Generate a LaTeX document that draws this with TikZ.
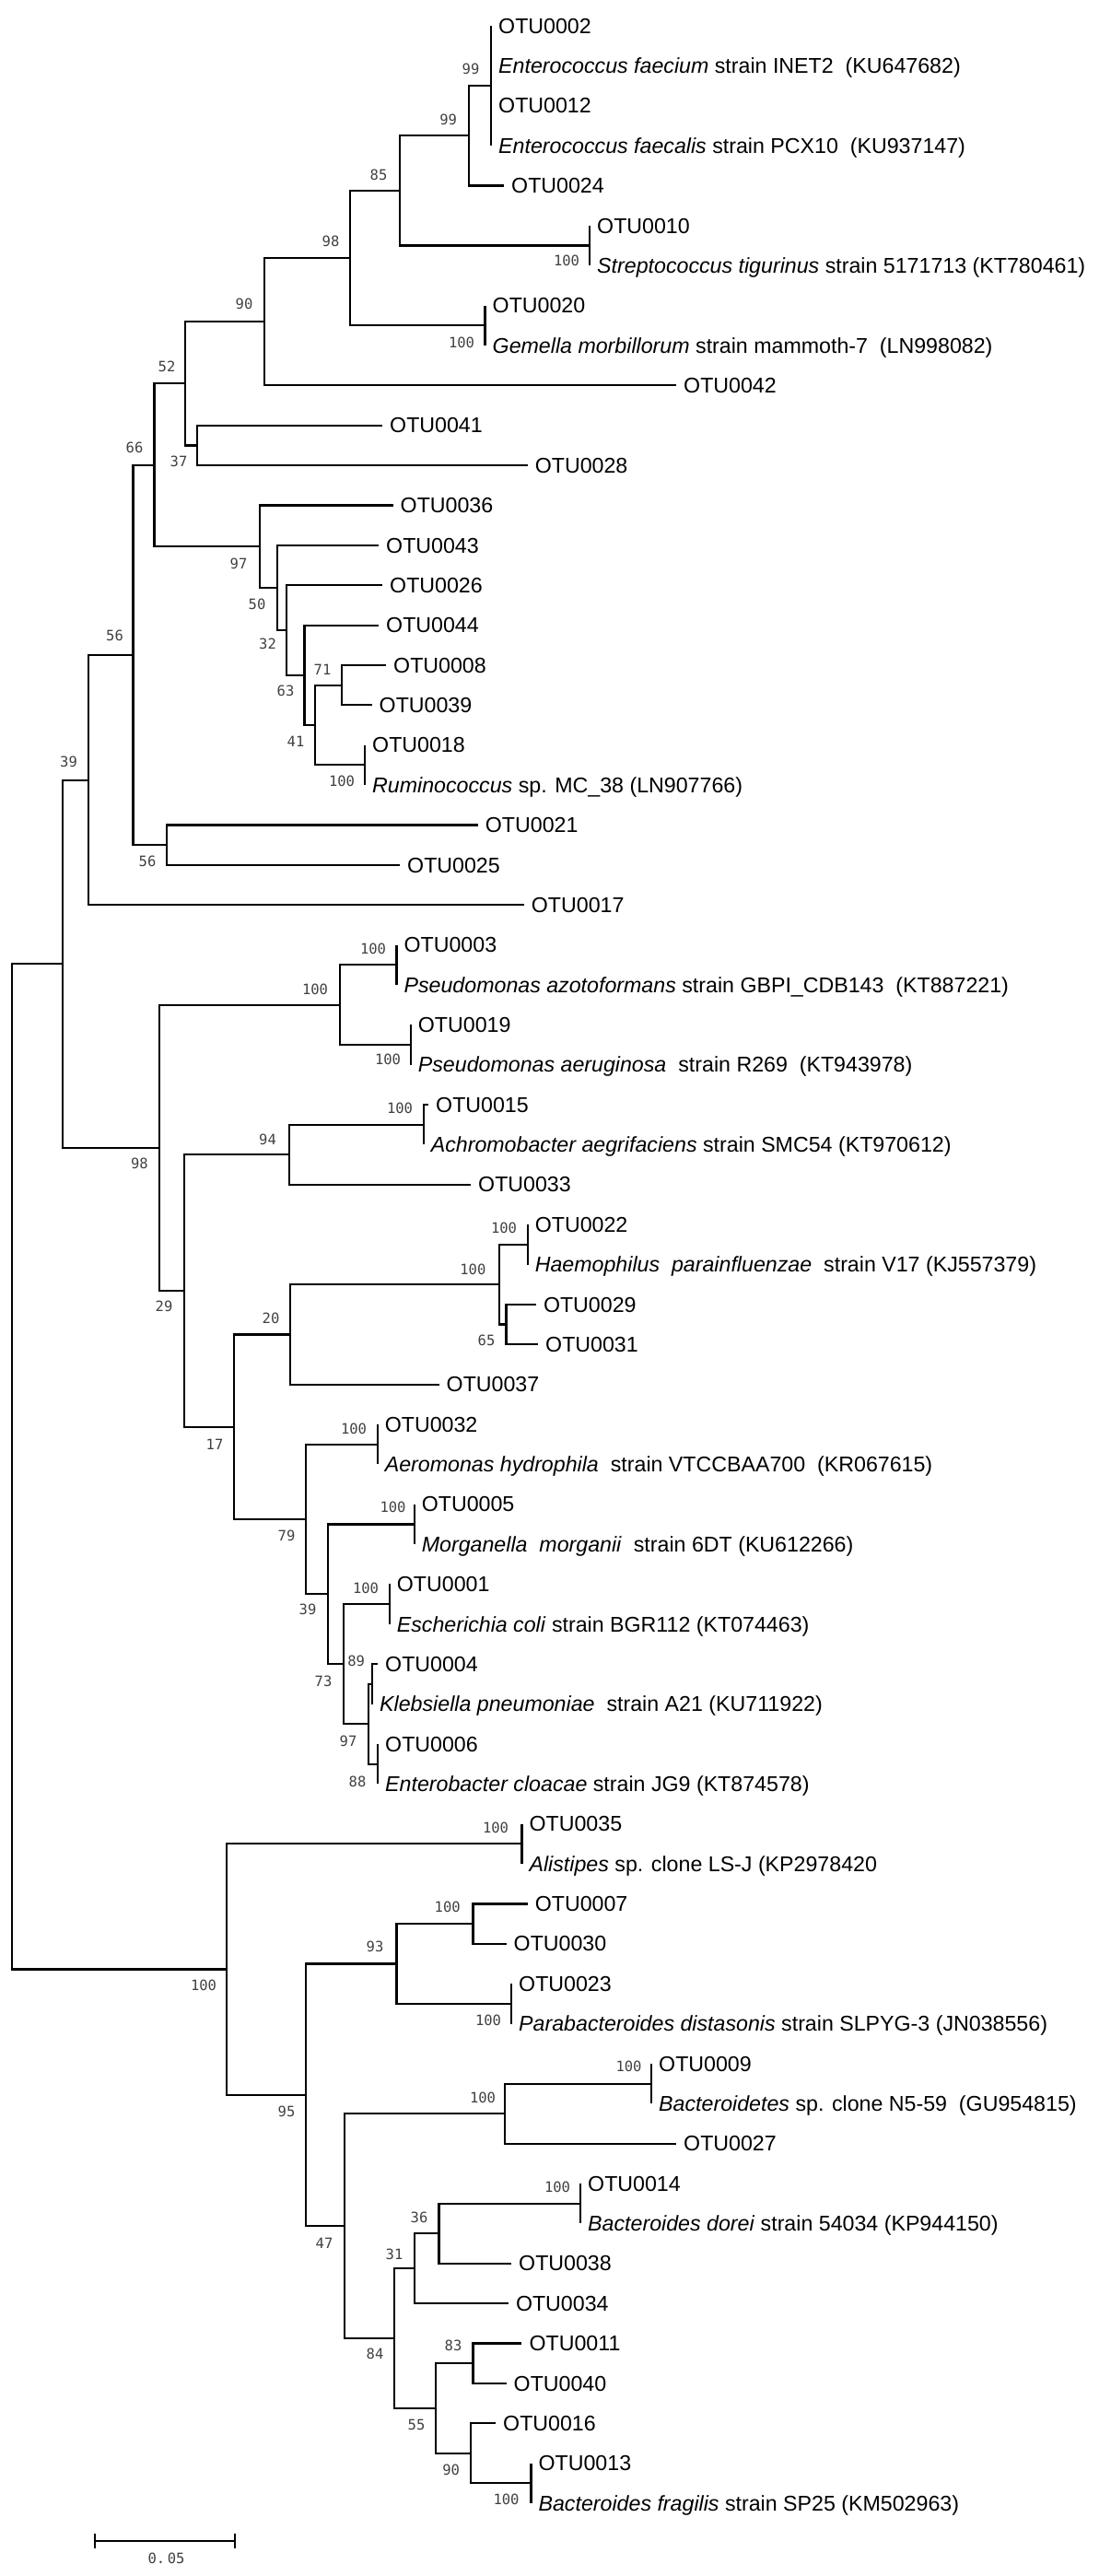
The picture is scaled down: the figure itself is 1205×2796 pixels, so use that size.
\documentclass[tikz,border=0pt]{standalone}
\usepackage{fontspec}
\setmainfont{Liberation Sans}
\newfontfamily\bootfont{DejaVu Sans Mono}
\usetikzlibrary{arrows.meta}

\begin{document}
\begin{tikzpicture}[
                x=1pt, y=-1pt,
                branch/.style={line width=2.2pt},
                otu/.style={
                        anchor=west,
                        inner xsep=8pt,
                        inner ysep=0pt,
                        font=\fontsize{23.2}{26}\selectfont,
                        text height=16.5pt,
                        text depth=0pt
                    },
                boot/.style={inner sep=0pt, text=black!75, font=\bootfont\fontsize{15.5}{18}\selectfont}
            ]
            \useasboundingbox (0,0) rectangle (1205,2796);

            % Firmicutes
            \node[otu] (o02)  at (533,28)    {OTU0002};
            \node[otu] (efm)  at (533,71.4)  {\textit{Enterococcus faecium} strain INET2~~(KU647682)};
            \node[otu] (o12)  at (533,114.7) {OTU0012};
            \node[otu] (efs)  at (533,158.1) {\textit{Enterococcus faecalis} strain PCX10~~(KU937147)};
            \node[otu] (o24)  at (547,201.5) {OTU0024};
            \node[otu] (o10)  at (640,244.9) {OTU0010};
            \node[otu] (stig) at (640,288.2) {\textit{Streptococcus tigurinus} strain 5171713 (KT780461)};
            \node[otu] (o20)  at (526.5,331.6) {OTU0020};
            \node[otu] (gem)  at (526.5,375) {\textit{Gemella morbillorum} strain mammoth-7~~(LN998082)};
            \node[otu] (o42)  at (734,418.3) {OTU0042};
            \node[otu] (o41)  at (415,461.7) {OTU0041};
            \node[otu] (o28)  at (572.6,505.1) {OTU0028};
            \node[otu] (o36)  at (426.5,548.4) {OTU0036};
            \node[otu] (o43)  at (411,591.8) {OTU0043};
            \node[otu] (o26)  at (415,635.2) {OTU0026};
            \node[otu] (o44)  at (411,678.6) {OTU0044};
            \node[otu] (o08)  at (419,721.9) {OTU0008};
            \node[otu] (o39)  at (403.5,765.3) {OTU0039};
            \node[otu] (o18)  at (396,808.7) {OTU0018};
            \node[otu] (rum)  at (396,852)   {\textit{Ruminococcus} sp. MC\_38 (LN907766)};
            \node[otu] (o21)  at (518.7,895.4) {OTU0021};
            \node[otu] (o25)  at (434,938.8) {OTU0025};
            \node[otu] (o17)  at (568.7,982.1) {OTU0017};

            % Proteobacteria
            \node[otu] (o03)  at (430.4,1025.5) {OTU0003};
            \node[otu] (paz)  at (430.4,1068.9) {\textit{Pseudomonas azotoformans} strain GBPI\_CDB143~~(KT887221)};
            \node[otu] (o19)  at (445.7,1112.3) {OTU0019};
            \node[otu] (pae)  at (445.7,1155.6) {\textit{Pseudomonas aeruginosa}~~strain R269~~(KT943978)};
            \node[otu] (o15)  at (465,1199)   {OTU0015};
            \node[otu] (ach)  at (459.6,1242.4) {\textit{Achromobacter aegrifaciens} strain SMC54 (KT970612)};
            \node[otu] (o33)  at (511,1285.7) {OTU0033};
            \node[otu] (o22)  at (572.6,1329.1) {OTU0022};
            \node[otu] (hae)  at (572.6,1372.5) {\textit{Haemophilus~~parainfluenzae}~~strain V17 (KJ557379)};
            \node[otu] (o29)  at (581.8,1415.8) {OTU0029};
            \node[otu] (o31)  at (584,1459.2) {OTU0031};
            \node[otu] (o37)  at (476.5,1502.6) {OTU0037};
            \node[otu] (o32)  at (409.6,1545.9) {OTU0032};
            \node[otu] (aer)  at (409.6,1589.3) {\textit{Aeromonas hydrophila}~~strain VTCCBAA700~~(KR067615)};
            \node[otu] (o05)  at (449.6,1632.7) {OTU0005};
            \node[otu] (mor)  at (449.6,1676.1) {\textit{Morganella~~morganii}~~strain 6DT (KU612266)};
            \node[otu] (o01)  at (422.7,1719.4) {OTU0001};
            \node[otu] (eco)  at (422.7,1762.8) {\textit{Escherichia coli} strain BGR112 (KT074463)};
            \node[otu] (o04)  at (410,1806.2) {OTU0004};
            \node[otu] (kle)  at (404,1849.5) {\textit{Klebsiella pneumoniae}~~strain A21 (KU711922)};
            \node[otu] (o06)  at (410,1892.9) {OTU0006};
            \node[otu] (ent)  at (410,1936.3) {\textit{Enterobacter cloacae} strain JG9 (KT874578)};

            % Bacteroidetes
            \node[otu] (o35)  at (566.4,1979.6) {OTU0035};
            \node[otu] (ali)  at (566.4,2023) {\textit{Alistipes} sp. clone LS-J (KP2978420};
            \node[otu] (o07)  at (572.6,2066.4) {OTU0007};
            \node[otu] (o30)  at (549.5,2109.7) {OTU0030};
            \node[otu] (o23)  at (555,2153.1) {OTU0023};
            \node[otu] (par)  at (555,2196.5) {\textit{Parabacteroides distasonis} strain SLPYG-3 (JN038556)};
            \node[otu] (o09)  at (707,2239.9) {OTU0009};
            \node[otu] (bac)  at (707,2283.2) {\textit{Bacteroidetes} sp. clone N5-59~~(GU954815)};
            \node[otu] (o27)  at (734,2326.6) {OTU0027};
            \node[otu] (o14)  at (630,2370) {OTU0014};
            \node[otu] (bdo)  at (630,2413.3) {\textit{Bacteroides dorei} strain 54034 (KP944150)};
            \node[otu] (o38)  at (555,2456.7) {OTU0038};
            \node[otu] (o34)  at (551.8,2500.1) {OTU0034};
            \node[otu] (o11)  at (566.4,2543.4) {OTU0011};
            \node[otu] (o40)  at (549.5,2586.8) {OTU0040};
            \node[otu] (o16)  at (538,2630.2) {OTU0016};
            \node[otu] (o13)  at (576.4,2673.5) {OTU0013};
            \node[otu] (bfr)  at (576.4,2716.9) {\textit{Bacteroides fragilis} strain SP25 (KM502963)};

            % Nodos internos
            \coordinate (root)  at (13,1591.9);
            \coordinate (n39t)  at (67.6,1046.2);
            \coordinate (n39)   at (96,846.6);
            \coordinate (n56a)  at (144.5,711);
            \coordinate (n56b)  at (180.6,917.1);
            \coordinate (n66)   at (167.5,504.8);
            \coordinate (n52)   at (201,416.3);
            \coordinate (n37)   at (213.7,483.4);
            \coordinate (n90)   at (287,349.2);
            \coordinate (n98)   at (380,280.1);
            \coordinate (nGem)  at (526.5,353.3);
            \coordinate (n85)   at (434,207);
            \coordinate (nStr)  at (640,266.6);
            \coordinate (n99b)  at (508.8,147.3);
            \coordinate (nEnt)  at (533,93.05);
            \coordinate (n97)   at (282,593.2);
            \coordinate (n50)   at (301,637.9);
            \coordinate (n32)   at (311,684);
            \coordinate (n63)   at (330.5,732.8);
            \coordinate (n41)   at (342,787);
            \coordinate (n71)   at (371,743.6);
            \coordinate (nRum)  at (396,830.3);
            \coordinate (n98p)  at (173,1245.8);
            \coordinate (nPse)  at (369,1090.6);
            \coordinate (nPaz)  at (430.4,1047.2);
            \coordinate (nPae)  at (445.7,1134);
            \coordinate (n29)   at (200,1401);
            \coordinate (n94)   at (313.6,1253.2);
            \coordinate (nAch)  at (459.6,1220.7);
            \coordinate (n17)   at (253.6,1548.7);
            \coordinate (n20)   at (315,1448.4);
            \coordinate (nH100) at (541.9,1394.2);
            \coordinate (nHae)  at (572.6,1350.8);
            \coordinate (n65)   at (549.5,1437.5);
            \coordinate (n79)   at (332,1649);
            \coordinate (nAer)  at (409.6,1567.6);
            \coordinate (n39e)  at (355.8,1730.3);
            \coordinate (nMor)  at (449.6,1654.4);
            \coordinate (n73)   at (372.7,1806.2);
            \coordinate (nEco)  at (422.7,1741.1);
            \coordinate (n97e)  at (400,1871.3);
            \coordinate (n89)   at (404,1827.9);
            \coordinate (n88)   at (410,1914.6);
            \coordinate (nR100) at (246,2137.5);
            \coordinate (nAli)  at (566.4,2001.3);
            \coordinate (n95)   at (332,2273.7);
            \coordinate (n93)   at (430.4,2131.4);
            \coordinate (nC100) at (513.4,2088);
            \coordinate (nPar)  at (555,2174.8);
            \coordinate (n47)   at (374,2416);
            \coordinate (nD100) at (548,2294.1);
            \coordinate (nBac)  at (707,2261.6);
            \coordinate (n84)   at (428,2538);
            \coordinate (n31)   at (449.6,2462.2);
            \coordinate (n36)   at (476.5,2424.2);
            \coordinate (nBdo)  at (630,2391.7);
            \coordinate (n55)   at (472.6,2613.9);
            \coordinate (n83)   at (513.4,2565.1);
            \coordinate (n90b)  at (511,2662.7);
            \coordinate (nBfr)  at (576.4,2695.2);

            % Ramas
            \draw[branch] (root) |- (n39t) (root) |- (nR100);
            \draw[branch] (n39t) |- (n39) (n39t) |- (n98p);
            \draw[branch] (n39) |- (n56a) (n39) |- (o17.west);
            \draw[branch] (n56a) |- (n66) (n56a) |- (n56b);
            \draw[branch] (n56b) |- (o21.west) (n56b) |- (o25.west);
            \draw[branch] (n66) |- (n52) (n66) |- (n97);
            \draw[branch] (n52) |- (n90) (n52) |- (n37);
            \draw[branch] (n37) |- (o41.west) (n37) |- (o28.west);
            \draw[branch] (n90) |- (n98) (n90) |- (o42.west);
            \draw[branch] (n98) |- (n85) (n98) |- (nGem);
            \draw[branch] (nGem) |- (o20.west) (nGem) |- (gem.west);
            \draw[branch] (n85) |- (n99b) (n85) |- (nStr);
            \draw[branch] (nStr) |- (o10.west) (nStr) |- (stig.west);
            \draw[branch] (n99b) |- (nEnt) (n99b) |- (o24.west);
            \draw[branch] (nEnt) |- (o02.west) (nEnt) |- (efm.west) (nEnt) |- (o12.west) (nEnt) |- (efs.west);
            \draw[branch] (n97) |- (o36.west) (n97) |- (n50);
            \draw[branch] (n50) |- (o43.west) (n50) |- (n32);
            \draw[branch] (n32) |- (o26.west) (n32) |- (n63);
            \draw[branch] (n63) |- (o44.west) (n63) |- (n41);
            \draw[branch] (n41) |- (n71) (n41) |- (nRum);
            \draw[branch] (n71) |- (o08.west) (n71) |- (o39.west);
            \draw[branch] (nRum) |- (o18.west) (nRum) |- (rum.west);
            \draw[branch] (n98p) |- (nPse) (n98p) |- (n29);
            \draw[branch] (nPse) |- (nPaz) (nPse) |- (nPae);
            \draw[branch] (nPaz) |- (o03.west) (nPaz) |- (paz.west);
            \draw[branch] (nPae) |- (o19.west) (nPae) |- (pae.west);
            \draw[branch] (n29) |- (n94) (n29) |- (n17);
            \draw[branch] (n94) |- (nAch) (n94) |- (o33.west);
            \draw[branch] (nAch) |- (o15.west) (nAch) |- (ach.west);
            \draw[branch] (n17) |- (n20) (n17) |- (n79);
            \draw[branch] (n20) |- (nH100) (n20) |- (o37.west);
            \draw[branch] (nH100) |- (nHae) (nH100) |- (n65);
            \draw[branch] (nHae) |- (o22.west) (nHae) |- (hae.west);
            \draw[branch] (n65) |- (o29.west) (n65) |- (o31.west);
            \draw[branch] (n79) |- (nAer) (n79) |- (n39e);
            \draw[branch] (nAer) |- (o32.west) (nAer) |- (aer.west);
            \draw[branch] (n39e) |- (nMor) (n39e) |- (n73);
            \draw[branch] (nMor) |- (o05.west) (nMor) |- (mor.west);
            \draw[branch] (n73) |- (nEco) (n73) |- (n97e);
            \draw[branch] (nEco) |- (o01.west) (nEco) |- (eco.west);
            \draw[branch] (n97e) |- (n89) (n97e) |- (n88);
            \draw[branch] (n89) |- (o04.west) (n89) |- (kle.west);
            \draw[branch] (n88) |- (o06.west) (n88) |- (ent.west);
            \draw[branch] (nR100) |- (nAli) (nR100) |- (n95);
            \draw[branch] (nAli) |- (o35.west) (nAli) |- (ali.west);
            \draw[branch] (n95) |- (n93) (n95) |- (n47);
            \draw[branch] (n93) |- (nC100) (n93) |- (nPar);
            \draw[branch] (nC100) |- (o07.west) (nC100) |- (o30.west);
            \draw[branch] (nPar) |- (o23.west) (nPar) |- (par.west);
            \draw[branch] (n47) |- (nD100) (n47) |- (n84);
            \draw[branch] (nD100) |- (nBac) (nD100) |- (o27.west);
            \draw[branch] (nBac) |- (o09.west) (nBac) |- (bac.west);
            \draw[branch] (n84) |- (n31) (n84) |- (n55);
            \draw[branch] (n31) |- (n36) (n31) |- (o34.west);
            \draw[branch] (n36) |- (nBdo) (n36) |- (o38.west);
            \draw[branch] (nBdo) |- (o14.west) (nBdo) |- (bdo.west);
            \draw[branch] (n55) |- (n83) (n55) |- (n90b);
            \draw[branch] (n83) |- (o11.west) (n83) |- (o40.west);
            \draw[branch] (n90b) |- (o16.west) (n90b) |- (nBfr);
            \draw[branch] (nBfr) |- (o13.west) (nBfr) |- (bfr.west);

            % Valores bootstrap
            \node[boot] (lEnt)  at (511,75)      {99};
            \node[boot] (l99b)  at (486.6,130)   {99};
            \node[boot] (l85)   at (411,190)     {85};
            \node[boot] (lStr)  at (615,283)     {100};
            \node[boot] (l98)   at (359,262)     {98};
            \node[boot] (lGem)  at (501,372)     {100};
            \node[boot] (l90)   at (265,330)     {90};
            \node[boot] (l52)   at (181,398)     {52};
            \node[boot] (l66)   at (146,486)     {66};
            \node[boot] (l37)   at (194,500.7)   {37};
            \node[boot] (l97)   at (259,612)     {97};
            \node[boot] (l50)   at (279,656)     {50};
            \node[boot] (l32)   at (290.5,699)   {32};
            \node[boot] (l56a)  at (124.5,690)   {56};
            \node[boot] (l71)   at (350,727)     {71};
            \node[boot] (l63)   at (310,750)     {63};
            \node[boot] (l41)   at (321,805)     {41};
            \node[boot] (lRum)  at (371,848)     {100};
            \node[boot] (l39)   at (74.5,827)    {39};
            \node[boot] (l56b)  at (160,935)     {56};
            \node[boot] (lPaz)  at (405,1030)    {100};
            \node[boot] (lPse)  at (342,1074)    {100};
            \node[boot] (lPae)  at (421,1150)    {100};
            \node[boot] (lAch)  at (434,1203)    {100};
            \node[boot] (l94)   at (290.5,1237)  {94};
            \node[boot] (l98p)  at (151.4,1263)  {98};
            \node[boot] (lHae)  at (547,1333)    {100};
            \node[boot] (lH100) at (513.4,1378)  {100};
            \node[boot] (l29)   at (178,1418)    {29};
            \node[boot] (l20)   at (294,1431)    {20};
            \node[boot] (l65)   at (528,1455)    {65};
            \node[boot] (lAer)  at (384,1551)    {100};
            \node[boot] (l17)   at (233,1568)    {17};
            \node[boot] (lMor)  at (426.5,1636)  {100};
            \node[boot] (l79)   at (311,1667)    {79};
            \node[boot] (lEco)  at (397,1724)    {100};
            \node[boot] (l39e)  at (334,1747)    {39};
            \node[boot] (l89)   at (386.6,1803)  {89};
            \node[boot] (l73)   at (351,1825)    {73};
            \node[boot] (l97e)  at (378,1890)    {97};
            \node[boot] (l88)   at (388,1934)    {88};
            \node[boot] (lAli)  at (538,1984)    {100};
            \node[boot] (lC100) at (485.7,2070)  {100};
            \node[boot] (l93)   at (407,2113)    {93};
            \node[boot] (lR100) at (221,2155)    {100};
            \node[boot] (lPar)  at (530,2193)    {100};
            \node[boot] (lBac)  at (682.5,2243)  {100};
            \node[boot] (lD100) at (524,2277)    {100};
            \node[boot] (l95)   at (311,2292)    {95};
            \node[boot] (lBdo)  at (605,2374)    {100};
            \node[boot] (l36)   at (455,2407)    {36};
            \node[boot] (l47)   at (352,2435)    {47};
            \node[boot] (l31)   at (428,2447)    {31};
            \node[boot] (l83)   at (492,2546)    {83};
            \node[boot] (l84)   at (407,2555)    {84};
            \node[boot] (l55)   at (452,2632)    {55};
            \node[boot] (l90b)  at (489.6,2681)  {90};
            \node[boot] (lBfr)  at (549.5,2713)  {100};

            % Escala
            \coordinate (sbL) at (102,2757.7);
            \coordinate (sbR) at (256,2757.7);
            \draw[line width=2pt, {Bar[width=16pt]}-{Bar[width=16pt]}] (sbL) -- (sbR);
            \node[boot] (sbT) at (180.6,2777) {0.\,05};

        \end{tikzpicture}
\end{document}
